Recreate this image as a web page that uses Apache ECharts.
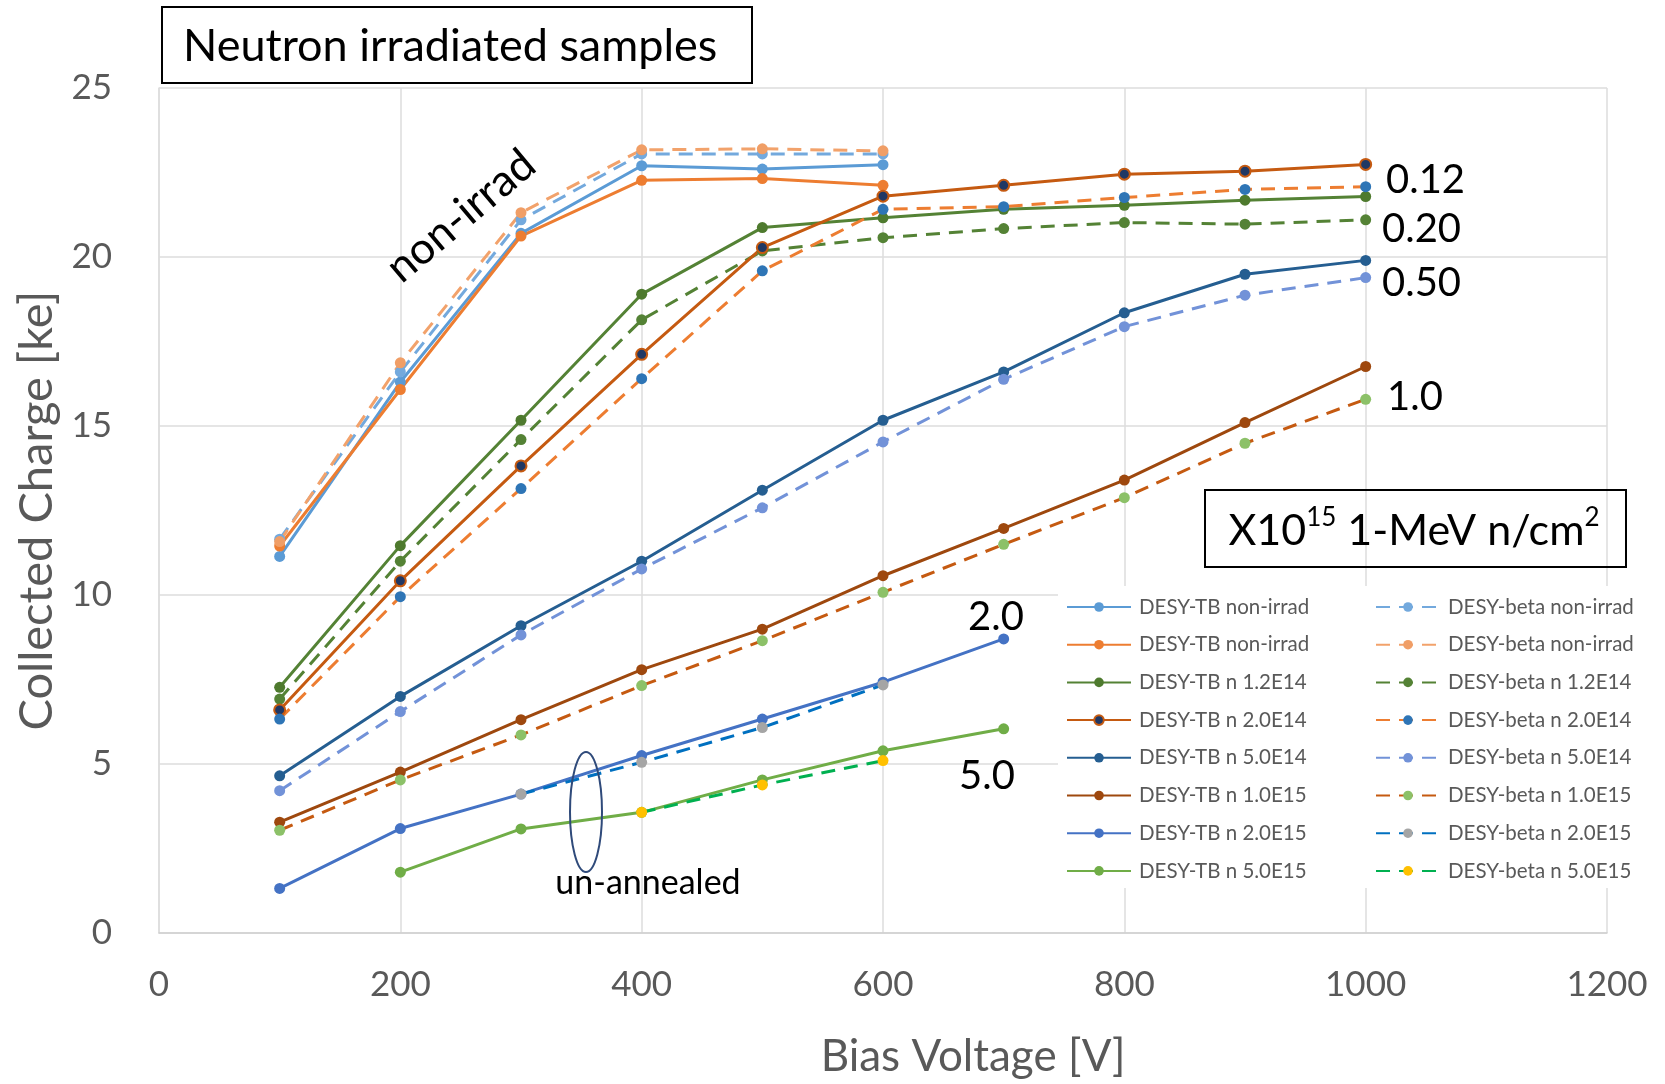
<!DOCTYPE html>
<html>
<head>
<meta charset="utf-8">
<script src="https://cdn.jsdelivr.net/npm/echarts@6/dist/echarts.min.js"></script>
<style>
html,body{margin:0;padding:0;background:#fff;}
#chart{width:1665px;height:1084px;}
</style>
</head>
<body>
<div id="chart"></div>
<script>
// ---- Data (bias voltage in V, collected charge in ke) ----
const voltsNonIrrad = [100, 200, 300, 400, 500, 600];
const voltsFull = [100, 200, 300, 400, 500, 600, 700, 800, 900, 1000];
const volts2E15TB = [100, 200, 300, 400, 500, 600, 700];
const volts5E15TB = [200, 300, 400, 500, 600, 700];
const volts2E15Beta = [300, 400, 500, 600];
const volts5E15Beta = [400, 500, 600];

const tbNonIrradA   = [11.14, 16.30, 20.70, 22.70, 22.60, 22.73];
const betaNonIrradA = [11.65, 16.60, 21.10, 23.05, 23.05, 23.05];
const tbNonIrradB   = [11.45, 16.08, 20.62, 22.27, 22.32, 22.12];
const betaNonIrradB = [11.58, 16.87, 21.31, 23.17, 23.20, 23.14];
const tb12E14   = [7.27, 11.46, 15.17, 18.90, 20.87, 21.16, 21.41, 21.53, 21.68, 21.79];
const beta12E14 = [6.92, 11.00, 14.60, 18.14, 20.18, 20.57, 20.84, 21.02, 20.97, 21.10];
const tb20E14   = [6.60, 10.42, 13.82, 17.12, 20.28, 21.80, 22.12, 22.45, 22.54, 22.74];
const beta20E14 = [6.33, 9.95, 13.15, 16.40, 19.59, 21.41, 21.49, 21.76, 22.00, 22.08];
const tb50E14   = [4.65, 7.00, 9.09, 11.00, 13.10, 15.17, 16.60, 18.35, 19.49, 19.90];
const beta50E14 = [4.21, 6.55, 8.82, 10.77, 12.58, 14.53, 16.38, 17.94, 18.87, 19.39];
const tb10E15   = [3.28, 4.76, 6.31, 7.79, 8.99, 10.57, 11.97, 13.40, 15.10, 16.76];
const beta10E15 = [3.04, 4.53, 5.86, 7.32, 8.65, 10.08, 11.50, 12.88, 14.49, 15.79];
const tb20E15   = [1.32, 3.09, 4.11, 5.25, 6.33, 7.42, 8.70];
const beta20E15 = [4.11, 5.05, 6.08, 7.34];
const tb50E15   = [1.80, 3.08, 3.57, 4.53, 5.39, 6.04];
const beta50E15 = [3.57, 4.38, 5.10];

const xTicks = [0, 200, 400, 600, 800, 1000, 1200];
const yTicks = [0, 5, 10, 15, 20, 25];

const ZW = '\u200B'; // keeps duplicate legend names distinct
const tbNames = ['DESY-TB non-irrad', 'DESY-TB non-irrad' + ZW, 'DESY-TB n 1.2E14', 'DESY-TB n 2.0E14',
  'DESY-TB n 5.0E14', 'DESY-TB n 1.0E15', 'DESY-TB n 2.0E15', 'DESY-TB n 5.0E15'];
const betaNames = ['DESY-beta non-irrad', 'DESY-beta non-irrad' + ZW, 'DESY-beta n 1.2E14', 'DESY-beta n 2.0E14',
  'DESY-beta n 5.0E14', 'DESY-beta n 1.0E15', 'DESY-beta n 2.0E15', 'DESY-beta n 5.0E15'];

function pts(xs, ys) { return xs.map((x, i) => [x, ys[i]]); }

const FONT = 'Lato, "Open Sans", sans-serif';
const GREY = '#595959';

function mk(name, xs, ys, lineColor, markColor, dashed, border) {
  return {
    type: 'line', name: name, data: pts(xs, ys),
    symbol: 'circle', symbolSize: 11,
    lineStyle: { color: lineColor, width: 3, type: dashed ? [14, 9] : 'solid' },
    itemStyle: border ? { color: markColor, borderColor: border, borderWidth: 2 } : { color: markColor },
    emphasis: { disabled: true },
    z: 2
  };
}

const series = [
  mk(tbNames[0], voltsNonIrrad, tbNonIrradA, '#5B9BD5', '#5B9BD5', false),
  mk(betaNames[0], voltsNonIrrad, betaNonIrradA, '#73A9DD', '#73A9DD', true),
  mk(tbNames[1], voltsNonIrrad, tbNonIrradB, '#ED7D31', '#ED7D31', false),
  mk(betaNames[1], voltsNonIrrad, betaNonIrradB, '#F2A26B', '#F09E66', true),
  mk(tbNames[2], voltsFull, tb12E14, '#548235', '#4E7A2E', false),
  mk(betaNames[2], voltsFull, beta12E14, '#548235', '#548235', true),
  mk(tbNames[3], voltsFull, tb20E14, '#C55A11', '#203864', false, '#C55A11'),
  mk(betaNames[3], voltsFull, beta20E14, '#ED7D31', '#2E75B6', true),
  mk(tbNames[4], voltsFull, tb50E14, '#255E91', '#255E91', false),
  mk(betaNames[4], voltsFull, beta50E14, '#7292D8', '#7292D8', true),
  mk(tbNames[5], voltsFull, tb10E15, '#9E480E', '#9E480E', false),
  mk(betaNames[5], voltsFull, beta10E15, '#C55A11', '#8CC168', true),
  mk(tbNames[6], volts2E15TB, tb20E15, '#4472C4', '#4472C4', false),
  mk(betaNames[6], volts2E15Beta, beta20E15, '#0070C0', '#A5A5A5', true),
  mk(tbNames[7], volts5E15TB, tb50E15, '#70AD47', '#70AD47', false),
  mk(betaNames[7], volts5E15Beta, beta50E15, '#00B050', '#FFC000', true)
];

const legendBase = {
  orient: 'vertical', top: 595, padding: 0,
  itemWidth: 64, itemHeight: 12, itemGap: 13.7,
  selectedMode: false,
  textStyle: { fontFamily: FONT, fontSize: 20.5, color: GREY, lineHeight: 24, padding: [0, 0, 0, 3] }
};

function txt(text, x, y, size, extra) {
  return Object.assign({
    type: 'text', x: x, y: y, z: 10,
    style: { text: text, font: size + 'px ' + FONT, fill: '#000',
      align: 'left', verticalAlign: 'middle', textAlign: 'left', textVerticalAlign: 'middle' }
  }, extra || {});
}

const option = {
  animation: false,
  backgroundColor: '#fff',
  grid: { left: 159, right: 58, top: 88, bottom: 150 },
  xAxis: {
    type: 'value', min: xTicks[0], max: xTicks[xTicks.length - 1], interval: 200,
    name: 'Bias Voltage [V]', nameLocation: 'middle', nameGap: 102,
    nameTextStyle: { fontFamily: FONT, fontSize: 44, color: GREY, padding: [0, 0, 0, 180] },
    axisLine: { show: true, lineStyle: { color: '#CFCFCF', width: 1.5 } },
    axisTick: { show: false },
    axisLabel: { fontFamily: FONT, fontSize: 35, color: GREY, margin: 34, formatter: v => String(v) },
    splitLine: { show: true, lineStyle: { color: '#DCDCDC', width: 1.5 } }
  },
  yAxis: {
    type: 'value', min: yTicks[0], max: yTicks[yTicks.length - 1], interval: 5,
    name: 'Collected Charge [ke]', nameLocation: 'middle', nameGap: 97,
    nameTextStyle: { fontFamily: FONT, fontSize: 47, color: GREY },
    axisLine: { show: true, lineStyle: { color: '#DCDCDC', width: 1.5 } },
    axisTick: { show: false },
    axisLabel: { fontFamily: FONT, fontSize: 35, color: GREY, margin: 47, formatter: v => String(v) },
    splitLine: { show: true, lineStyle: { color: '#DCDCDC', width: 1.5 } }
  },
  legend: [
    Object.assign({}, legendBase, { left: 1066, data: tbNames }),
    Object.assign({}, legendBase, { left: 1375, data: betaNames })
  ],
  graphic: [
    { type: 'rect', z: 1, shape: { x: 1058, y: 586, width: 600, height: 302 }, style: { fill: '#fff' } },
    { type: 'rect', z: 10, shape: { x: 162, y: 7, width: 590, height: 76 }, style: { fill: '#fff', stroke: '#000', lineWidth: 2 } },
    txt('Neutron irradiated samples', 183, 46, 45),
    txt('non-irrad', 461, 216, 44, { rotation: 40 * Math.PI / 180, style: { text: 'non-irrad', font: '44px ' + FONT, fill: '#000', align: 'center', verticalAlign: 'middle', textAlign: 'center', textVerticalAlign: 'middle' } }),
    txt('0.12', 1386, 180, 40),
    txt('0.20', 1382, 229, 40),
    txt('0.50', 1382, 283, 40),
    txt('1.0', 1387, 397, 40),
    txt('2.0', 968, 617, 40),
    txt('5.0', 959, 776, 40),
    { type: 'rect', z: 10, shape: { x: 1205, y: 490, width: 421, height: 77 }, style: { fill: 'none', stroke: '#000', lineWidth: 2 } },
    { type: 'text', z: 10, x: 1414, y: 529,
      style: {
        text: '{a|X10}{s|15}{a| 1-MeV n/cm}{s|2}',
        align: 'center', verticalAlign: 'middle', textAlign: 'center', textVerticalAlign: 'middle',
        fill: '#000',
        rich: {
          a: { fontFamily: FONT, fontSize: 43, lineHeight: 48, fill: '#000', color: '#000', verticalAlign: 'bottom' },
          s: { fontFamily: FONT, fontSize: 26, lineHeight: 48, fill: '#000', color: '#000', verticalAlign: 'top' }
        }
      }
    },
    { type: 'ellipse', z: 10, shape: { cx: 586, cy: 812, rx: 16, ry: 60 }, style: { fill: 'none', stroke: '#2F4A7A', lineWidth: 2 } },
    txt('un-annealed', 648, 883, 34, { style: { text: 'un-annealed', font: '34px ' + FONT, fill: '#000', align: 'center', verticalAlign: 'middle', textAlign: 'center', textVerticalAlign: 'middle' } })
  ],
  series: series
};

const chart = echarts.init(document.getElementById('chart'), null, { renderer: 'canvas' });
chart.setOption(option);
</script>
</body>
</html>
